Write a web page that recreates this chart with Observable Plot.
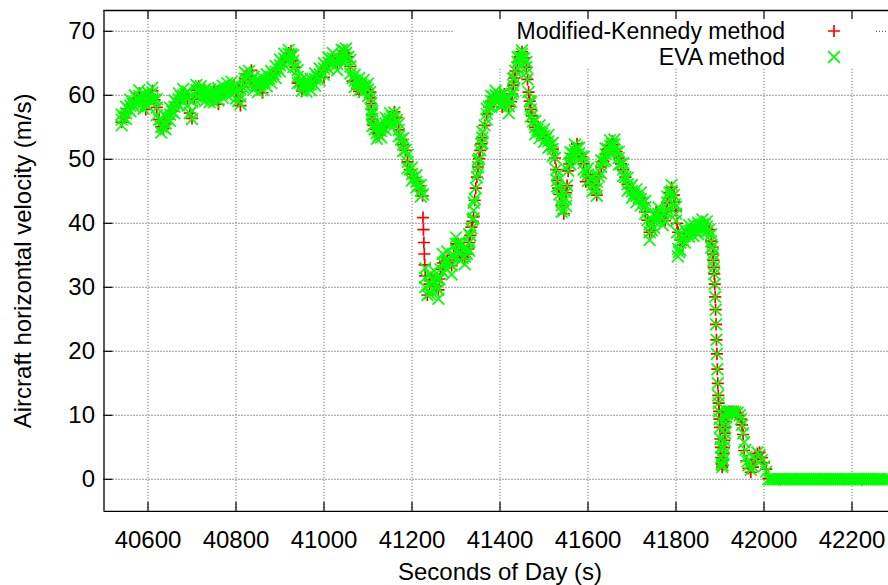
<!DOCTYPE html>
<html>
<head>
<meta charset="utf-8">
<script src="https://cdn.jsdelivr.net/npm/d3@7"></script>
<script src="https://cdn.jsdelivr.net/npm/@observablehq/plot@0.6"></script>
<style>
  html, body { margin: 0; padding: 0; background: #fff; overflow: hidden; }
  #chart { width: 888px; height: 585px; overflow: hidden; }
</style>
</head>
<body>
<div id="chart"></div>
<script>
// Aircraft horizontal velocity (m/s) against seconds of day, two estimation methods.
// Each series is stored as runs of samples: [start second, step in seconds].

const xTicks = [40600, 40800, 41000, 41200, 41400, 41600, 41800, 42000, 42200];
const yTicks = [0, 10, 20, 30, 40, 50, 60, 70];
const seriesNames = ["Modified-Kennedy method", "EVA method"];

// ---- EVA method ----
const evaRuns = [[40540, 5], [41230, 5], [41883, 1], [41920, 5]];
const evaSpeed1 = [
  56.2, 56.5, 57.2, 57.9, 58.4, 58.7, 59.0, 59.5, 59.9, 59.7,
  59.0, 58.6, 59.3, 60.1, 60.4, 59.3, 58.1, 56.2, 55.1, 55.0,
  55.6, 56.3, 57.0, 57.5, 58.2, 58.9, 59.4, 59.8, 60.0, 60.2,
  59.5, 57.2, 57.6, 59.4, 60.8, 60.8, 60.5, 60.3, 60.1, 60.0,
  59.9, 59.8, 59.9, 60.0, 60.2, 60.4, 60.6, 60.8, 61.0, 61.1,
  61.2, 61.3, 60.6, 59.1, 59.8, 61.3, 62.6, 63.3, 63.0, 62.4,
  61.9, 61.6, 61.5, 61.7, 61.9, 62.1, 62.4, 62.6, 62.9, 63.3,
  63.7, 64.2, 64.7, 65.2, 65.7, 66.1, 66.5, 66.4, 65.4, 64.4,
  62.9, 62.0, 61.6, 61.5, 61.5, 61.6, 61.7, 61.9, 62.5, 62.9,
  63.3, 63.7, 64.2, 64.6, 65.1, 65.6, 65.8, 65.4, 64.9, 65.6,
  66.4, 67.0, 66.6, 66.0, 64.5, 62.7, 62.3, 62.0, 61.8, 61.7,
  61.5, 61.2, 60.9, 60.5, 56.3, 54.7, 54.1, 53.8, 54.4, 55.0,
  55.6, 56.0, 56.3, 56.6, 56.4, 56.1, 54.6, 53.1, 52.3, 51.4,
  49.6, 48.4, 47.7, 47.1, 46.5, 45.9, 45.1, 44.5
];
const evaSpeed2 = [
  31.5, 28.8, 30.5, 31.2, 31.0, 30.2, 29.6, 32.8, 33.8, 34.0,
  34.2, 33.8, 33.4, 35.0, 36.8, 36.8, 35.4, 34.6, 34.8, 35.2,
  37.0, 39.2, 42.0, 45.5, 48.8, 51.4, 53.4, 55.3, 57.1, 58.2,
  59.1, 59.7, 60.0, 59.8, 59.3, 58.4, 59.6, 59.4, 58.3, 59.0,
  61.6, 63.8, 65.2, 66.0, 66.5, 65.8, 64.4, 60.5, 57.8, 55.9,
  55.0, 54.6, 54.3, 54.0, 53.7, 53.3, 52.8, 52.2, 51.6, 50.2,
  46.7, 44.5, 42.8, 42.0, 43.8, 48.2, 50.2, 50.9, 51.4, 51.9,
  50.9, 50.4, 49.4, 48.0, 47.6, 47.0, 46.0, 45.3, 45.4, 47.3,
  48.8, 49.7, 50.8, 51.6, 52.1, 52.4, 52.3, 51.2, 50.2, 49.3,
  48.4, 47.2, 46.1, 45.5, 45.0, 44.6, 44.3, 44.0, 43.8, 43.2,
  42.5, 40.5, 38.6, 38.9, 40.3, 41.3, 41.5, 41.1, 40.7, 40.4,
  43.2, 44.8, 45.1, 44.4, 41.5, 36.0, 37.0, 37.8, 38.0, 38.4,
  38.8, 38.9, 38.9, 38.9, 39.2, 39.5, 39.8, 39.8, 39.5, 39.0,
  37.2
];
const evaSpeed3 = [
  36.3, 35.2, 34.2, 33.1, 32.1, 30.5, 28.5, 26.5, 24.2, 21.8,
  19.6, 17.2, 15.0, 13.1, 11.9, 10.6, 9.4, 8.1, 6.3, 5.0,
  3.4, 2.4, 1.9, 2.2, 3.0, 4.0, 5.0, 6.1, 7.2, 8.1,
  9.0, 9.7, 10.2, 10.5
];
const evaSpeed4 = [
  10.6, 10.6, 10.6, 10.5, 10.4, 10.0, 8.5, 5.8, 3.5, 2.2,
  1.5, 2.0, 3.2, 4.2, 3.8, 3.0, 2.0, 1.2,
  0, 0, 0, 0, 0, 0, 0, 0, 0, 0, 0, 0, 0, 0,
  0, 0, 0, 0, 0, 0, 0, 0, 0, 0, 0, 0, 0, 0,
  0, 0, 0, 0, 0, 0, 0, 0, 0, 0, 0, 0, 0, 0,
  0, 0, 0, 0, 0, 0, 0, 0, 0, 0, 0, 0, 0, 0
];
// upper and lower edges of the EVA scatter, every 10 s
const evaEdgeRuns = [[40540, 10], [41230, 10]];
const evaUpper1 = [
  57.0, 58.2, 59.3, 60.0, 60.8, 60.2, 60.4, 61.2, 59.4, 56.3,
  56.8, 58.1, 59.2, 60.3, 61.0, 60.6, 59.0, 61.6, 61.4, 61.0,
  60.9, 60.8, 61.1, 61.5, 61.9, 62.1, 61.6, 61.0, 63.6, 63.8,
  62.9, 62.4, 62.8, 63.3, 63.8, 64.6, 65.6, 66.5, 67.1, 66.3,
  63.9, 62.5, 62.4, 62.6, 63.4, 64.2, 65.0, 65.9, 66.6, 65.8,
  67.1, 67.3, 65.5, 63.2, 62.7, 62.4, 61.8, 57.5, 55.0, 55.3,
  56.5, 57.2, 57.3, 55.6, 53.3, 50.7, 48.7, 47.5, 46.0
];
const evaLower1 = [
  55.3, 56.3, 57.5, 58.1, 58.9, 57.9, 58.3, 59.3, 56.9, 54.2,
  54.7, 56.0, 57.2, 58.4, 59.0, 58.4, 56.3, 59.8, 59.5, 59.1,
  58.9, 58.9, 59.2, 59.6, 60.0, 60.2, 59.5, 58.6, 61.5, 62.0,
  60.9, 60.5, 60.9, 61.4, 61.9, 62.7, 63.7, 64.7, 65.5, 64.4,
  61.9, 60.7, 60.6, 60.8, 61.5, 62.3, 63.2, 64.1, 64.8, 63.9,
  65.4, 65.7, 63.4, 61.3, 60.8, 60.5, 59.9, 55.2, 53.2, 53.4,
  54.6, 55.3, 55.4, 53.6, 51.3, 48.6, 46.7, 45.6, 44.2
];
const evaUpper2 = [
  33.0, 32.0, 32.6, 31.2, 35.2, 35.6, 34.8, 37.8, 36.6, 36.0,
  38.3, 43.2, 49.8, 54.3, 57.9, 59.9, 60.7, 60.1, 60.4, 59.4,
  62.6, 66.0, 67.0, 65.2, 58.9, 56.0, 55.3, 54.7, 53.8, 52.6,
  47.6, 43.8, 44.8, 51.1, 52.3, 51.8, 50.4, 48.6, 47.0, 46.5,
  49.8, 51.7, 53.0, 53.1, 51.2, 49.4, 47.1, 46.0, 45.3, 44.8,
  43.5, 39.8, 41.3, 42.5, 41.7, 44.2, 46.0, 42.6, 38.2, 39.0,
  39.7, 39.8, 40.1, 40.6, 40.3, 38.3
];
const evaLower2 = [
  30.0, 29.0, 29.4, 28.2, 32.4, 32.8, 32.0, 35.8, 34.2, 33.6,
  35.7, 40.8, 47.8, 52.5, 56.2, 58.2, 59.2, 58.4, 58.7, 57.2,
  60.6, 64.3, 65.8, 63.5, 56.7, 53.9, 53.3, 52.7, 51.8, 50.5,
  45.8, 41.8, 42.7, 49.2, 50.5, 50.0, 48.4, 46.6, 45.0, 44.3,
  47.8, 49.8, 51.2, 51.5, 49.2, 47.4, 45.1, 44.0, 43.3, 42.8,
  41.5, 37.4, 39.3, 40.5, 39.7, 42.2, 44.1, 40.4, 35.8, 37.0,
  37.9, 38.0, 38.3, 38.9, 38.6, 36.2
];
// extra samples on the steep stretches
const evaExtraTime = [
  41106, 41107, 41108, 41109, 41112.5,
  41262.5, 41327.5, 41332.5, 41337.5, 41342.5, 41347.5, 41352.5, 41357.5,
  41427.5, 41432.5, 41462.5, 41467.5, 41472.5,
  41527.5, 41532.5, 41552.5, 41557.5,
  41777.5, 41797.5, 41802.5, 41804, 41807,
  41947.5, 41952.5, 41957.5, 41962.5
];
const evaExtraSpeed = [
  59.6, 58.7, 57.8, 57.0, 55.3,
  31.3, 36.0, 38.1, 40.6, 43.8, 47.2, 50.1, 52.4,
  60.2, 62.7, 62.5, 59.1, 56.8,
  48.4, 45.5, 45.9, 49.3,
  41.8, 43.0, 38.6, 34.8, 35.5,
  9.4, 7.2, 4.6, 2.8
];

// ---- Modified-Kennedy method ----
const mkRuns = [[40540, 5], [41224, 1], [41230, 5], [41883, 1], [41920, 5]];
const mkSpeed1 = [
  55.8, 56.5, 57.2, 57.9, 58.4, 58.7, 59.0, 59.5, 60.3, 59.7,
  59.0, 57.8, 59.3, 60.1, 60.7, 59.3, 58.1, 56.2, 55.1, 54.8,
  55.6, 56.3, 57.0, 57.5, 58.2, 58.9, 59.4, 59.8, 60.0, 60.2,
  59.5, 57.2, 56.4, 59.4, 60.8, 61.4, 60.5, 60.3, 60.1, 60.0,
  59.9, 59.8, 60.6, 60.0, 58.6, 60.4, 60.6, 60.8, 61.3, 61.1,
  61.2, 61.6, 60.6, 59.1, 58.4, 61.3, 62.6, 63.3, 63.0, 63.9,
  61.9, 61.6, 61.5, 61.7, 60.4, 62.3, 62.4, 62.6, 62.9, 63.3,
  63.7, 64.2, 64.7, 65.2, 65.7, 66.1, 66.6, 66.9, 65.4, 64.4,
  61.9, 62.0, 60.7, 61.5, 61.5, 61.6, 61.7, 61.9, 62.5, 62.9,
  63.3, 63.7, 62.8, 64.6, 65.1, 65.6, 65.8, 65.4, 64.9, 65.6,
  66.4, 67.0, 66.6, 66.0, 64.5, 62.2, 62.3, 61.0, 60.6, 61.7,
  61.5, 61.4, 60.9, 60.5, 56.3, 54.7, 54.1, 53.8, 54.4, 55.0,
  55.6, 56.0, 56.3, 56.6, 57.4, 56.5, 54.6, 53.1, 52.3, 51.4,
  49.6, 48.4, 47.7, 47.1, 46.5, 45.9, 45.1
];
const mkSpeed2 = [44.3, 40.9, 39.0, 37.0, 35.2, 33.5];
const mkSpeed3 = [
  31.8, 28.8, 30.5, 31.2, 31.0, 30.2, 29.6, 32.8, 33.8, 34.0,
  34.2, 33.8, 33.4, 35.0, 36.8, 36.8, 35.4, 34.6, 34.8, 35.2,
  37.0, 39.4, 41.0, 45.5, 48.8, 51.4, 53.4, 55.3, 57.1, 58.2,
  59.1, 59.7, 60.0, 59.8, 60.0, 58.2, 60.2, 59.4, 58.3, 59.0,
  61.6, 63.8, 65.2, 66.0, 66.8, 65.8, 64.4, 60.5, 57.8, 55.9,
  55.0, 54.6, 54.3, 54.0, 53.7, 53.3, 52.8, 52.2, 51.6, 50.2,
  46.7, 44.5, 42.8, 41.5, 44.8, 48.2, 50.2, 50.9, 51.4, 52.4,
  50.9, 50.4, 49.3, 46.5, 47.6, 47.0, 46.0, 45.3, 44.4, 47.3,
  48.8, 49.7, 50.8, 51.6, 52.1, 52.8, 52.3, 51.2, 50.2, 49.3,
  48.4, 47.2, 46.1, 45.5, 45.0, 44.6, 44.3, 44.0, 43.8, 43.2,
  41.8, 40.5, 38.6, 38.9, 40.3, 41.8, 41.5, 41.1, 40.9, 40.4,
  43.2, 44.8, 45.6, 44.4, 42.0, 38.6, 37.4, 36.6, 37.8, 38.4,
  38.8, 38.9, 38.9, 38.9, 39.2, 39.5, 40.2, 39.8, 39.3, 39.0,
  37.2
];
const mkSpeed4 = [
  36.3, 35.2, 34.2, 33.1, 32.1, 30.5, 28.5, 26.5, 24.2, 21.8,
  19.6, 17.2, 15.0, 13.1, 11.9, 10.6, 9.4, 8.1, 6.3, 5.0,
  3.4, 2.4, 1.9, 2.2, 3.0, 4.0, 5.0, 6.1, 7.2, 8.1,
  9.0, 9.7, 10.2, 10.5
];
const mkSpeed5 = [
  10.6, 10.6, 10.6, 10.5, 10.4, 10.0, 8.5, 4.5, 2.9, 1.7,
  1.1, 1.9, 3.1, 4.0, 4.2, 3.4, 2.6, 1.6, 0.1
];
const mkExtraTime = [
  41106, 41107, 41108, 41109, 41112.5,
  41262.5, 41327.5, 41332.5, 41337.5, 41342.5, 41347.5, 41352.5, 41357.5,
  41427.5, 41432.5, 41462.5, 41467.5, 41472.5,
  41527.5, 41532.5, 41552.5, 41557.5,
  41777.5, 41797.5, 41802.5,
  41947.5, 41952.5,
  42037, 42223
];
const mkExtraSpeed = [
  59.6, 58.7, 57.8, 57.0, 55.3,
  31.3, 36.0, 38.1, 40.3, 43.6, 47.2, 50.1, 52.4,
  60.2, 62.7, 62.5, 59.1, 56.8,
  48.4, 45.5, 45.9, 49.3,
  41.8, 43.3, 40.0,
  9.4, 7.0,
  0, 0
];

// ---- build tables ----
function addRuns(rows, runs, speeds) {
  runs.forEach(([t0, dt], i) => speeds[i].forEach((v, j) => rows.push({t: t0 + j * dt, v})));
  return rows;
}
function addPairs(rows, times, speeds) {
  times.forEach((t, i) => rows.push({t, v: speeds[i]}));
  return rows;
}
const eva = [];
addRuns(eva, evaRuns, [evaSpeed1, evaSpeed2, evaSpeed3, evaSpeed4]);
addRuns(eva, evaEdgeRuns, [evaUpper1, evaUpper2]);
addRuns(eva, evaEdgeRuns, [evaLower1, evaLower2]);
addPairs(eva, evaExtraTime, evaExtraSpeed);

const mk = [];
addRuns(mk, mkRuns, [mkSpeed1, mkSpeed2, mkSpeed3, mkSpeed4, mkSpeed5]);
addPairs(mk, mkExtraTime, mkExtraSpeed);

// ---- layout ----
const W = 888, H = 585;
const font = "'Liberation Sans', Arial, Helvetica, sans-serif";
const fontSize = 24;
const keyFontSize = 23;
const xDomain = [40500, 42300], xRange = [103.5, 895.5];
const yDomain = [-5, 73.25], yRange = [510.8, 10];
const [xMin, xMax] = xDomain, [yMin, yMax] = yDomain;
const pxPerSec = (xRange[1] - xRange[0]) / (xMax - xMin);
const pxPerUnit = (yRange[0] - yRange[1]) / (yMax - yMin);
const tickLen = 9;
const tickDy = tickLen / pxPerUnit;   // tick length in m/s
const tickDx = tickLen / pxPerSec;    // tick length in seconds

// the key area (pixels) is kept free of grid lines
const keyBox = {left: 453, right: 876, bottom: 67};
const keyT0 = xMin + (keyBox.left - xRange[0]) / pxPerSec;
const keyT1 = xMin + (keyBox.right - xRange[0]) / pxPerSec;
const keyV = yMin + (yRange[0] - keyBox.bottom) / pxPerUnit;

const vGrid = xTicks.map(t => ({t, top: (t > keyT0 && t < keyT1) ? keyV : yMax}));
const hGrid = [];
yTicks.forEach(v => {
  if (v > keyV) {
    hGrid.push({v, x1: xMin, x2: keyT0});
    hGrid.push({v, x1: keyT1, x2: xMax});
  } else hGrid.push({v, x1: xMin, x2: xMax});
});

const gridStyle = {stroke: "#3a3a3a", strokeWidth: 1, strokeDasharray: "1,2"};
const markWidth = 1.7;

const plot = Plot.plot({
  width: W,
  height: H,
  marginLeft: 0, marginRight: 0, marginTop: 0, marginBottom: 0,
  x: {domain: xDomain, range: xRange, axis: null},
  y: {domain: yDomain, range: yRange, axis: null},
  style: {fontFamily: font, fontSize: fontSize + "px", background: "#fff", overflow: "hidden"},
  marks: [
    // grid
    Plot.ruleX(vGrid, {x: "t", y1: yMin, y2: "top", ...gridStyle, strokeOpacity: 0.8}),
    Plot.ruleY(hGrid, {y: "v", x1: "x1", x2: "x2", ...gridStyle}),
    // data
    Plot.dot(mk, {x: "t", y: "v", symbol: "plus", r: 4, stroke: "#ff0000", fill: "none", strokeWidth: markWidth}),
    Plot.dot(eva, {x: "t", y: "v", symbol: "times", r: 5.4, stroke: "#00ff00", fill: "none", strokeWidth: markWidth}),
    // frame
    Plot.ruleY([yMin, yMax], {x1: xMin, x2: xMax, stroke: "#000", strokeWidth: 1.3}),
    Plot.ruleX([xMin, xMax], {y1: yMin, y2: yMax, stroke: "#000", strokeWidth: 1.3}),
    // inward ticks (bottom, top mirror, left)
    Plot.ruleX(xTicks, {x: d => d, y1: yMin, y2: yMin + tickDy, stroke: "#000", strokeWidth: 1.2}),
    Plot.ruleX(xTicks, {x: d => d, y1: yMax - tickDy, y2: yMax, stroke: "#000", strokeWidth: 1.2}),
    Plot.ruleY(yTicks, {y: d => d, x1: xMin, x2: xMin + tickDx, stroke: "#000", strokeWidth: 1.2}),
    // tick labels
    Plot.text(xTicks, {x: d => d, y: yMin, dy: 29, text: d => String(d), fill: "#000", fontSize}),
    Plot.text(yTicks, {x: xMin, y: d => d, dx: -9, textAnchor: "end", text: d => String(d), fill: "#000", fontSize}),
    // axis titles
    Plot.text(["Seconds of Day (s)"], {x: (xMin + xMax) / 2, y: yMin, dy: 61, text: d => d, fill: "#000", fontSize}),
    Plot.text(["Aircraft horizontal velocity (m/s)"], {x: xMin, y: (yMin + yMax) / 2, dx: -81, rotate: -90, text: d => d, fill: "#000", fontSize})
  ]
});

// key: labels right-aligned, sample symbol to the right
const svg = d3.select(plot);
const key = svg.append("g").attr("font-family", font).attr("font-size", keyFontSize);
const keyRows = [
  {label: seriesNames[0], y: 31, symbol: d3.symbolPlus, size: Math.PI * 4 * 4, color: "#ff0000"},
  {label: seriesNames[1], y: 57, symbol: d3.symbolTimes, size: Math.PI * 5.4 * 5.4, color: "#00ff00"}
];
keyRows.forEach(r => {
  key.append("text").attr("x", 785).attr("y", r.y).attr("dy", "0.35em")
    .attr("text-anchor", "end").attr("fill", "#000").text(r.label);
  key.append("path").attr("transform", `translate(834,${r.y})`)
    .attr("d", d3.symbol(r.symbol, r.size)()).attr("fill", "none")
    .attr("stroke", r.color).attr("stroke-width", markWidth);
});

document.getElementById("chart").appendChild(plot);
</script>
</body>
</html>
